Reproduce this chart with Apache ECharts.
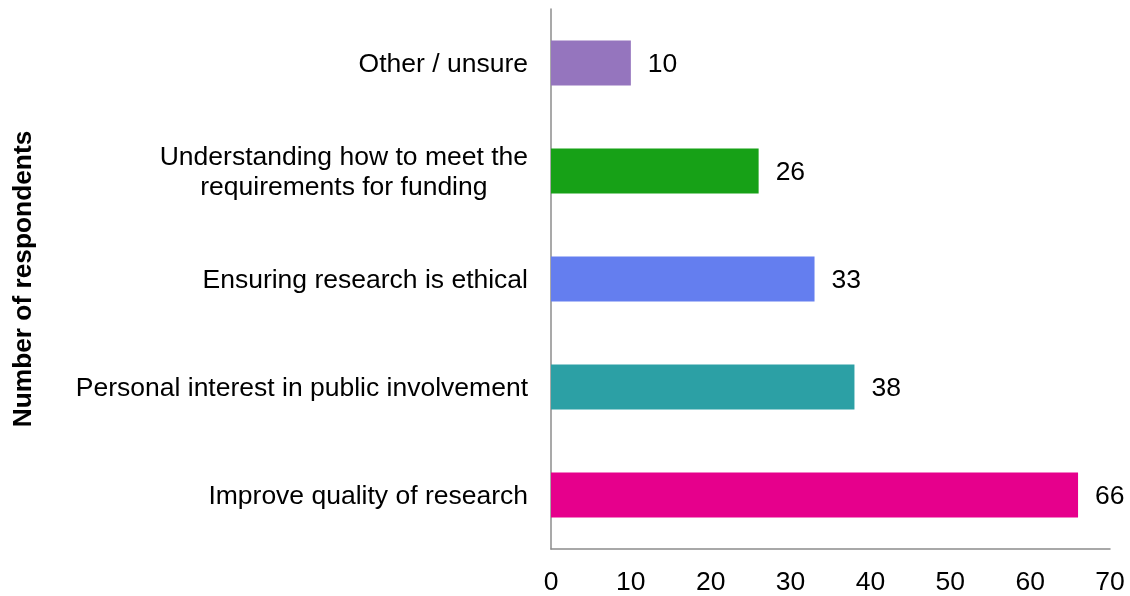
<!DOCTYPE html>
<html><head><meta charset="utf-8">
<script src="https://cdn.jsdelivr.net/npm/echarts@6/dist/echarts.min.js"></script>
<style>html,body{margin:0;padding:0;background:#fff}#c{width:1130px;height:596px}</style>
</head><body><div id="c"></div>
<script>
const categories = ["Improve quality of research", "Personal interest in public involvement", "Ensuring research is ethical", "Understanding how to meet the\nrequirements for funding", "Other / unsure"];
const values = [66, 38, 33, 26, 10];
const colors = ["#E6008C", "#2CA0A5", "#647EEF", "#17A117", "#9575BE"];
const xTicks = [0, 10, 20, 30, 40, 50, 60, 70];
const yTitle = "Number of respondents";

const FONT = 'Liberation Sans, Arial, sans-serif';
const chart = echarts.init(document.getElementById('c'));
chart.setOption({
  animation: false,
  grid: {left: 551, right: 20, top: 9, bottom: 47, containLabel: false},
  xAxis: {
    type: 'value', min: xTicks[0], max: xTicks[xTicks.length-1], interval: 10,
    axisLine: {show: true, lineStyle: {color: '#8c8c8c', width: 1.5}},
    axisTick: {show: false},
    splitLine: {show: false},
    axisLabel: {color: '#000', fontSize: 26.5, fontFamily: FONT, margin: 20}
  },
  yAxis: {
    type: 'category', data: categories,
    name: yTitle, nameLocation: 'middle', nameGap: 514, nameRotate: 90,
    nameTextStyle: {fontWeight: 'bold', fontSize: 26.3, color: '#000', fontFamily: FONT},
    axisLine: {show: true, lineStyle: {color: '#8c8c8c', width: 1.5}},
    axisTick: {show: false},
    axisLabel: {
      color: '#000', fontSize: 26.5, fontFamily: FONT, margin: 23, lineHeight: 30, align: 'right',
      padding: [4, 0, 0, 0],
      formatter: (v) => v.split('\n').map(s => '{c|' + s + '}').join('\n'),
      rich: {c: {align: 'center', fontSize: 26.5, fontFamily: FONT, color: '#000', lineHeight: 30}}
    }
  },
  series: [{
    type: 'bar',
    data: values.map((v, i) => ({value: v, itemStyle: {color: colors[i]}})),
    barWidth: 45,
    label: {show: true, position: 'right', distance: 17, offset: [0, 2], color: '#000', fontSize: 26.5, fontFamily: FONT}
  }]
});
</script></body></html>
